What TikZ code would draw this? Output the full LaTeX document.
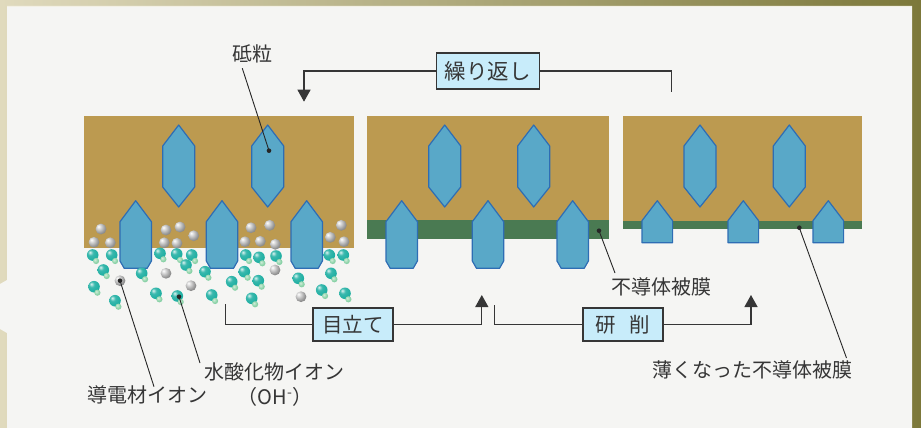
\documentclass[tikz,border=0pt]{standalone}
\usepackage{fontspec}
\setmainfont{Noto Sans CJK JP}
\usetikzlibrary{arrows.meta}

\definecolor{frameL}{HTML}{E0DABD}
\definecolor{frameR}{HTML}{7C783A}
\definecolor{paper}{HTML}{F5F5F3}
\definecolor{bond}{HTML}{BC9A50}
\definecolor{grain}{HTML}{59A8C8}
\definecolor{grainedge}{HTML}{2E6DB4}
\definecolor{film}{HTML}{4A7A52}
\definecolor{tag}{HTML}{C8ECFA}
\definecolor{ink}{HTML}{363636}
\definecolor{ohball}{HTML}{17AC9F}
\definecolor{ohtail}{HTML}{8ED3A8}
\definecolor{mball}{HTML}{969696}

% soft sphere shadings for the ions
\pgfdeclareradialshading{ohsphere}{\pgfqpoint{-12bp}{12bp}}{color(0bp)=(ohball!15!white);
  color(12bp)=(ohball!85!white); color(34bp)=(ohball); color(52bp)=(ohball!70!black);
  color(80bp)=(ohball!70!black)}
\pgfdeclareradialshading{tailsphere}{\pgfqpoint{-10bp}{10bp}}{color(0bp)=(ohtail!40!white);
  color(20bp)=(ohtail); color(52bp)=(ohtail!75!ohball); color(80bp)=(ohtail!75!ohball)}
\pgfdeclareradialshading{msphere}{\pgfqpoint{-12bp}{12bp}}{color(0bp)=(white);
  color(9bp)=(mball!35!white); color(26bp)=(mball); color(46bp)=(mball!65!black);
  color(80bp)=(mball!65!black)}

% grain held inside the bond
\newcommand{\innergrain}[1]{\draw[grainbody] (#1,125) -- (#1+16,146) -- (#1+16,187) -- (#1,207)
  -- (#1-16,187) -- (#1-16,146) -- cycle;}
% grain standing out of the bond
\newcommand{\sharpgrain}[1]{\draw[grainbody] (#1,200.7) -- (#1+15.7,221.7) -- (#1+15.7,261) -- (#1+11.5,268.3)
  -- (#1-11.5,268.3) -- (#1-15.7,261) -- (#1-15.7,221.7) -- cycle;}
% grain worn flat
\newcommand{\flatgrain}[1]{\draw[grainbody] (#1,200.7) -- (#1+15.3,220.7) -- (#1+15.3,242.7)
  -- (#1-15.3,242.7) -- (#1-15.3,220.7) -- cycle;}
% ions
\newcommand{\ohion}[2]{\shade[shading=ohsphere] (#1,#2) circle[radius=5.8];
  \shade[shading=tailsphere] (#1+3.4,#2+6) circle[radius=3.1];}
\newcommand{\mion}[2]{\shade[shading=msphere] (#1,#2) circle[radius=5.4];}

\begin{document}
\begin{tikzpicture}[x=1pt,y=-1pt,
    grainbody/.style={fill=grain,draw=grainedge,line width=1.2pt,line join=round},
    lbl/.style={text=ink,font=\fontsize{20}{24}\selectfont,inner sep=0pt},
    tagbox/.style={draw=ink,fill=tag,line width=1.3pt,text=ink,font=\fontsize{20.5}{24}\selectfont,
      minimum width=80pt,minimum height=33pt,inner sep=0pt},
    flowline/.style={draw=ink,line width=1.3pt},
    flowarrow/.style={-{Triangle[width=13pt,length=12pt]}},
    leader/.style={draw=black!85,line width=0.9pt}]
  \useasboundingbox (0,0) rectangle (921,428);

  % frame and paper
  \shade[left color=frameL,right color=frameR] (0,0) rectangle (921,428);
  \fill[paper] (7,6) -- (912,6) -- (912,428) -- (7,428) -- (7,333) -- (0,329)
    -- (0,284) -- (7,280) -- cycle;
  \draw[white!60!frameL,line width=1pt] (7,6.5) -- (912,6.5);

  % wheel before dressing
  \fill[bond] (84,116) rectangle (354,248);
  \innergrain{178.7} \innergrain{267.7}
  \sharpgrain{135.7} \sharpgrain{222} \sharpgrain{306.7}

  % wheel after dressing, with film
  \fill[bond] (367,116) rectangle (609,220);
  \fill[film] (367,220) rectangle (609,239.3);
  \innergrain{444.7} \innergrain{533.7}
  \sharpgrain{401.7} \sharpgrain{488} \sharpgrain{572.7}

  % wheel after grinding, thin film
  \fill[bond] (622.7,116) rectangle (861.7,221);
  \fill[film] (622.7,221) rectangle (861.7,229);
  \innergrain{700} \innergrain{789.3}
  \flatgrain{657.3} \flatgrain{743.3} \flatgrain{828.3}

  % conductive ions in the bond
  \mion{101}{229} \mion{94}{242.3} \mion{110.3}{242.7}
  \mion{166}{230} \mion{180}{227} \mion{193.7}{235.7} \mion{164.3}{242.7} \mion{177}{243.3}
  \mion{251}{227.7} \mion{269.7}{225.3} \mion{245}{241.7} \mion{260.3}{241.3} \mion{275.3}{244.3}
  \mion{341.3}{225.3} \mion{330.3}{237.3} \mion{344}{241.7}
  % loose ions
  \mion{120}{280.7} \mion{166}{273.3} \mion{191}{285.7} \mion{275}{270} \mion{301}{296.7}
  \ohion{92.7}{255} \ohion{111.7}{255} \ohion{103.3}{270} \ohion{94}{286.7} \ohion{115}{300.7}
  \ohion{141.7}{273.3} \ohion{160}{253.3} \ohion{176.7}{254} \ohion{191.7}{255} \ohion{186}{265}
  \ohion{156}{293.3} \ohion{177.3}{296} \ohion{205}{271.7} \ohion{211.7}{295} \ohion{231.7}{281.7}
  \ohion{245.7}{255} \ohion{259}{257.3} \ohion{276}{256} \ohion{244.3}{271.7} \ohion{258.3}{280.7}
  \ohion{251.7}{298.3} \ohion{298.3}{278.3} \ohion{329.3}{255} \ohion{343.3}{255} \ohion{331}{273.3}
  \ohion{321.7}{290} \ohion{345}{293.3}

  % labels and their leaders
  \coordinate (grain dot) at (269,150.7);
  \coordinate (grain end) at (242.3,68.3);
  \coordinate (film dot) at (599,230.7);
  \coordinate (film end) at (615,273);
  \coordinate (thin dot) at (799.3,227.7);
  \coordinate (thin end) at (846.5,358);
  \coordinate (cond dot) at (120,280.7);
  \coordinate (cond end) at (154,386.7);
  \coordinate (oh dot) at (179,296.7);
  \coordinate (oh end) at (200,363);

  \node[lbl] (grainlbl) at (252.5,53.5) {砥粒};
  \node[lbl] (filmlbl) at (661,286.5) {不導体被膜};
  \node[lbl] (thinlbl) at (752,370) {薄くなった不導体被膜};
  \node[lbl] (condlbl) at (147,395) {導電材イオン};
  \node[lbl] (ohlbl) at (274.5,371.7) {水酸化物イオン};
  \node[lbl] (ohformula) at (275,397) {（OH\textsuperscript{-}）};

  \draw[leader] (grain dot) -- (grain end);
  \draw[leader] (film dot) -- (film end);
  \draw[leader] (thin dot) -- (thin end);
  \draw[leader] (cond dot) -- (cond end);
  \draw[leader] (oh dot) -- (oh end);
  \foreach \p in {grain dot,film dot,thin dot,cond dot,oh dot}
    \fill[black!85] (\p) circle[radius=2.3];

  % process steps
  \node[tagbox,minimum width=103pt,minimum height=36pt,font=\fontsize{21.5}{25}\selectfont]
    (repeat) at (487.7,70.9) {繰り返し};
  \node[tagbox] (dress) at (353,324.5) {目立て};
  \node[tagbox] (grind) at (623,324.5) {研\hspace{14pt}削};

  \coordinate (repeat from) at (671.7,91.7);
  \coordinate (repeat to) at (304,101.7);
  \coordinate (dress from) at (225.5,304);
  \coordinate (dress to) at (481.8,295);
  \coordinate (grind from) at (494.3,305);
  \coordinate (grind to) at (751,295);

  \draw[flowline] (repeat from) |- (repeat.east);
  \draw[flowline,flowarrow] (repeat.west) -| (repeat to);
  \draw[flowline] (dress from) |- (dress.west);
  \draw[flowline,flowarrow] (dress.east) -| (dress to);
  \draw[flowline] (grind from) |- (grind.west);
  \draw[flowline,flowarrow] (grind.east) -| (grind to);
\end{tikzpicture}
\end{document}
